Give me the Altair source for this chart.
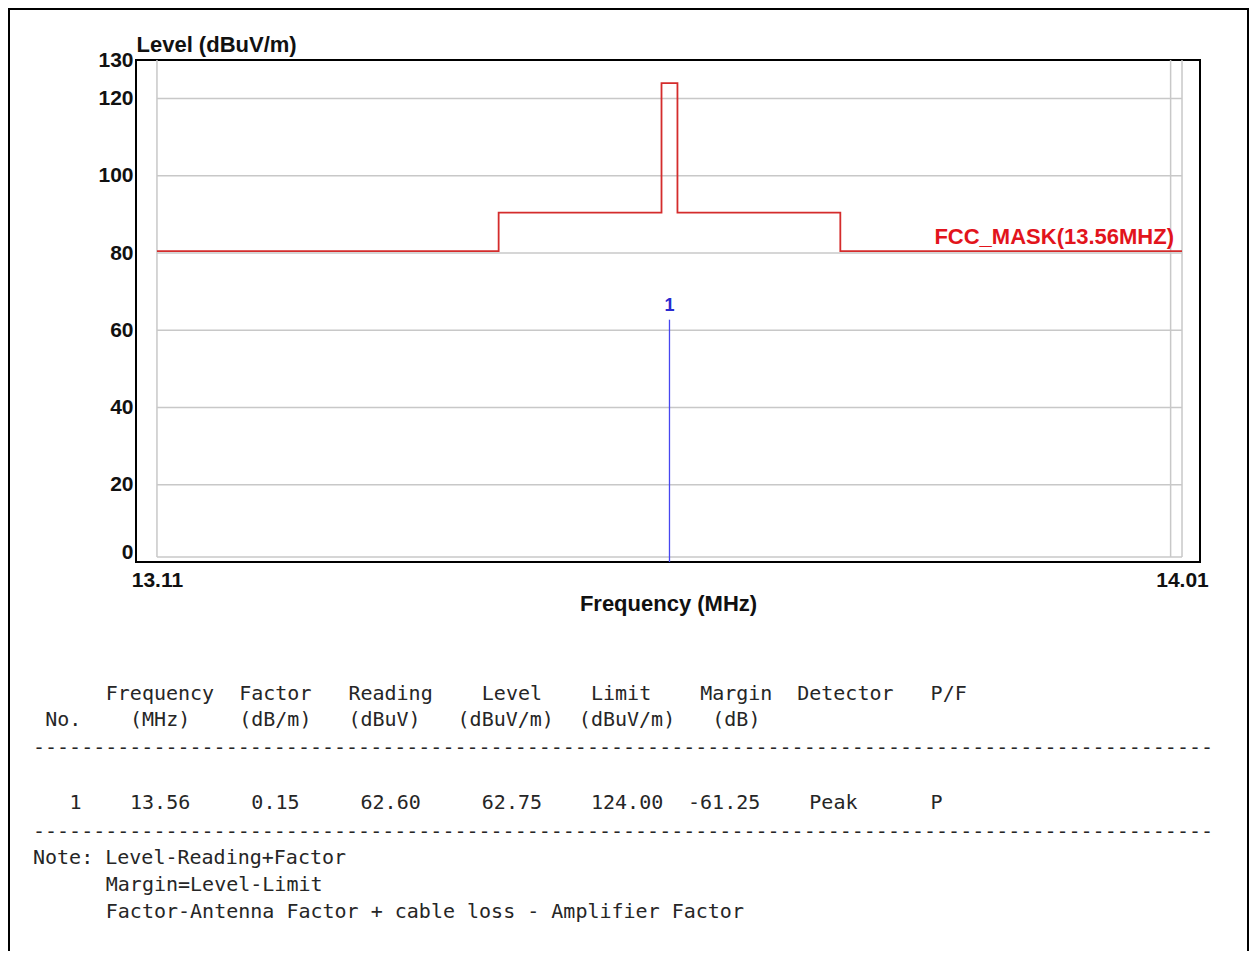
import altair as alt
import pandas as pd

# ---------------- data ----------------
mask_freq = [13.11, 13.41, 13.41, 13.553, 13.553, 13.567, 13.567, 13.71, 13.71, 14.01]
mask_level = [80.5, 80.5, 90.5, 90.5, 124.0, 124.0, 90.5, 90.5, 80.5, 80.5]
mask_name = "FCC_MASK(13.56MHZ)"

marker_no = ["1"]
marker_freq = [13.56]
marker_level = [62.75]

y_ticks = [0, 20, 40, 60, 80, 100, 120, 130]
x_ticks = [13.11, 14.01]
grid_levels = [1.3, 20, 40, 60, 80, 100, 120]
grid_freqs = [13.11, 14.00, 14.01]

header1 = ["Frequency", "Factor", "Reading", "Level", "Limit", "Margin", "Detector", "P/F"]
header2 = ["No.", "(MHz)", "(dB/m)", "(dBuV)", "(dBuV/m)", "(dBuV/m)", "(dB)"]
row1 = ["1", "13.56", "0.15", "62.60", "62.75", "124.00", "-61.25", "Peak", "P"]
notes = ["Note: Level-Reading+Factor", "Margin=Level-Limit",
         "Factor-Antenna Factor + cable loss - Amplifier Factor"]
dash_count = 98

# ---------------- layout (positions, styles) ----------------
W, H = 1064, 502
PAD_L, PAD_T = 128, 52
X_DOMAIN = [13.0916, 14.0258]
Y_DOMAIN = [0, 130]
FONT = "Liberation Sans"
MONO = "DejaVu Sans Mono"

h1_cols = [6, 17, 26, 37, 46, 55, 63, 74]
h2_cols = [1, 8, 17, 26, 35, 45, 56]
r1_cols = [3, 8, 18, 27, 37, 46, 54, 64, 74]
note_cols = [0, 6, 6]
CW = 12.13
X0 = 33 - 136  # page x of column 0, in plot coordinates
ORIGIN_Y = 60

cells = []
for s, c in zip(header1, h1_cols):
    cells.append((s, c, 694))
for s, c in zip(header2, h2_cols):
    cells.append((s, c, 720))
cells.append(("-" * dash_count, 0, 748))
for s, c in zip(row1, r1_cols):
    cells.append((s, c, 803))
cells.append(("-" * dash_count, 0, 832))
for s, c, yy in zip(notes, note_cols, [858, 885, 912]):
    cells.append((s, c, yy))
table_df = pd.DataFrame({
    "txt": [c[0] for c in cells],
    "px": [X0 + c[1] * CW for c in cells],
    "py": [c[2] - ORIGIN_Y for c in cells],
})

mask_df = pd.DataFrame({"freq": mask_freq, "level": mask_level, "i": list(range(len(mask_freq)))})
marker_df = pd.DataFrame({"no": marker_no, "freq": marker_freq, "level": marker_level})
hgrid_df = pd.DataFrame({"level": grid_levels, "f1": x_ticks[0], "f2": x_ticks[-1]})
vgrid_df = pd.DataFrame({"freq": grid_freqs, "l1": grid_levels[0], "l2": Y_DOMAIN[1]})
label_df = pd.DataFrame({"txt": [mask_name], "freq": [mask_freq[-1]], "level": [mask_level[-1]]})

xscale = alt.Scale(domain=X_DOMAIN, nice=False, zero=False)
yscale = alt.Scale(domain=Y_DOMAIN, nice=False)

x_axis = alt.Axis(
    values=x_ticks, format=".2f", title="Frequency (MHz)",
    labelFont=FONT, labelFontSize=21, labelFontWeight="bold", labelColor="#111111",
    labelPadding=7, ticks=False, tickSize=0, domain=False, grid=False,
    titleFont=FONT, titleFontSize=22, titleFontWeight="bold", titleColor="#111111",
    titlePadding=3, labelFlush=False, labelOverlap=False,
)
y_axis = alt.Axis(
    values=y_ticks, title="Level (dBuV/m)",
    labelFont=FONT, labelFontSize=21, labelFontWeight="bold", labelColor="#111111",
    labelPadding=3, ticks=False, tickSize=0, domain=False, grid=False,
    labelBaseline={"condition": {"test": "datum.value === 0", "value": "bottom"}, "value": "middle"},
    labelOverlap=False, labelFlush=False,
    titleFont=FONT, titleFontSize=22, titleFontWeight="bold", titleColor="#111111",
    titleAngle=0, titleAlign="left", titleBaseline="middle", titleX=0, titleY=-16,
)

hgrid = alt.Chart(hgrid_df).mark_rule(color="#c8c8c8", strokeWidth=1.5).encode(
    x=alt.X("f1:Q", scale=xscale, axis=x_axis),
    x2="f2:Q",
    y=alt.Y("level:Q", scale=yscale, axis=y_axis),
)
vgrid = alt.Chart(vgrid_df).mark_rule(color="#c8c8c8", strokeWidth=1.5).encode(
    x=alt.X("freq:Q", scale=xscale),
    y=alt.Y("l1:Q", scale=yscale),
    y2="l2:Q",
)
mask = alt.Chart(mask_df).mark_line(color="#d42c2c", strokeWidth=1.8).encode(
    x=alt.X("freq:Q", scale=xscale),
    y=alt.Y("level:Q", scale=yscale),
    order="i:Q",
)
mask_label = alt.Chart(label_df).mark_text(
    align="right", baseline="alphabetic", dx=-8, dy=-7,
    font=FONT, fontSize=22, fontWeight="bold", color="#e2141c",
).encode(
    x=alt.X("freq:Q", scale=xscale),
    y=alt.Y("level:Q", scale=yscale),
    text="txt:N",
)
marker = alt.Chart(marker_df).mark_rule(color="#4646f0", strokeWidth=1.3).encode(
    x=alt.X("freq:Q", scale=xscale),
    y=alt.Y("level:Q", scale=yscale),
    y2=alt.datum(0),
)
marker_label = alt.Chart(marker_df).mark_text(
    dy=-14, baseline="middle", font=FONT, fontSize=18, fontWeight="bold", color="#2a2ad0",
).encode(
    x=alt.X("freq:Q", scale=xscale),
    y=alt.Y("level:Q", scale=yscale),
    text="no:N",
)

plot = alt.layer(hgrid, vgrid, mask, mask_label, marker, marker_label)

table = alt.Chart(table_df).mark_text(
    align="left", baseline="middle", font=MONO, fontSize=20, color="#262626",
).encode(
    x=alt.X("px:Q", scale=None, axis=None),
    y=alt.Y("py:Q", scale=None, axis=None),
    text="txt:N",
)

border = alt.Chart(pd.DataFrame({"k": [0]})).mark_rect(
    fillOpacity=0, stroke="black", strokeWidth=2,
).encode(
    x=alt.value(-127), x2=alt.value(1112), y=alt.value(-51), y2=alt.value(960),
)

chart = alt.layer(plot, table, border).resolve_scale(
    x="independent", y="independent"
).properties(
    width=W, height=H,
    autosize=alt.AutoSizeParams(type="none"),
    padding={"left": PAD_L, "top": PAD_T, "right": 50, "bottom": 389},
    background="white",
).configure_view(stroke="black", strokeWidth=2)

chart.save("out.html", embed_options={"renderer": "svg", "actions": False})
